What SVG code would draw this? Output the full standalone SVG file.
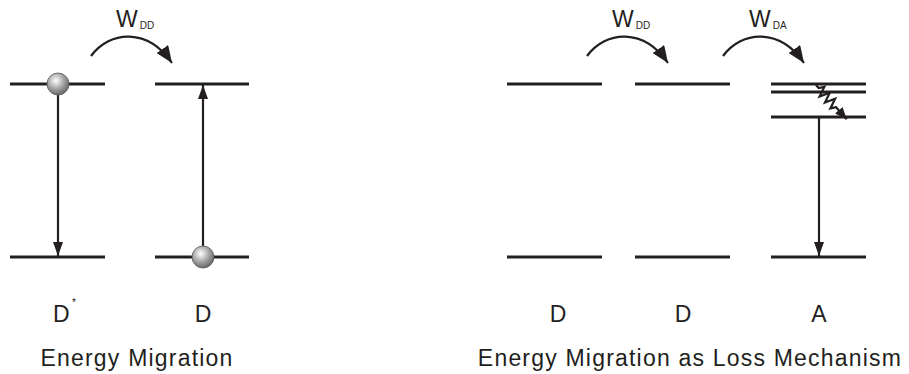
<svg xmlns="http://www.w3.org/2000/svg" width="909" height="374" viewBox="0 0 909 374">
<style>
.lv{stroke:#231f20;stroke-width:2.8;fill:none}
.ar{stroke:#231f20;stroke-width:2.2;fill:none}
.t{font-family:"Liberation Sans",Arial,sans-serif;fill:#231f20}
.lab{font-size:23px}
.cap{font-size:23px;letter-spacing:1.2px}
.w{font-size:23px}
.sub{font-size:10px}
</style>
<defs>
<marker id="ah" viewBox="0 0 14 10" refX="14" refY="5" markerWidth="14" markerHeight="10" markerUnits="userSpaceOnUse" orient="auto"><path d="M0,0L14,5L0,10z" fill="#231f20"/></marker>
<marker id="ahs" viewBox="0 0 12 10" refX="12" refY="5" markerWidth="12" markerHeight="10" markerUnits="userSpaceOnUse" orient="auto"><path d="M0,0L12,5L0,10z" fill="#231f20"/></marker>
<marker id="ahc" viewBox="0 0 17 14" refX="17" refY="7" markerWidth="17" markerHeight="14" markerUnits="userSpaceOnUse" orient="auto"><path d="M0,0L17,7L0,14z" fill="#231f20"/></marker>
<radialGradient id="ball" cx="0.4" cy="0.35" r="0.65"><stop offset="0" stop-color="#ffffff"/><stop offset="0.6" stop-color="#a0a0a0"/><stop offset="1" stop-color="#6a6a6a"/></radialGradient>
</defs>
<g id="connectors">
<path class="ar" d="M58,90V256" marker-end="url(#ah)"/>
<path class="ar" d="M203,250V85" marker-end="url(#ah)"/>
<path class="ar" d="M91,56C110,30 148,28 172,63" marker-end="url(#ahc)"/>
<path class="ar" d="M587,56C606,30 644,28 668,63" marker-end="url(#ahc)"/>
<path class="ar" d="M723,56C742,30 780,28 804,63" marker-end="url(#ahc)"/>
<path class="ar" d="M819,117V256" marker-end="url(#ah)"/>
<path class="ar" stroke-width="1.7" transform="translate(816,85) rotate(48)" d="M0,0L4,0L7,-5L11,5L15,-5L19,5L23,-5L27,5L30,0L46,0" marker-end="url(#ahs)"/>
</g>
<g id="D-star">
<line class="lv" x1="10" y1="84" x2="105" y2="84"/>
<line class="lv" x1="10" y1="257" x2="105" y2="257"/>
<circle cx="58" cy="84" r="11" fill="url(#ball)" stroke="#555" stroke-width="0.8"/>
<text class="t lab" x="53" y="322">D</text>
<text class="t" x="72" y="306" font-size="10">*</text>
</g>
<g id="D-left">
<line class="lv" x1="155" y1="84" x2="249" y2="84"/>
<line class="lv" x1="155" y1="257" x2="249" y2="257"/>
<circle cx="203" cy="257" r="11" fill="url(#ball)" stroke="#555" stroke-width="0.8"/>
<text class="t lab" x="203" y="322" text-anchor="middle">D</text>
</g>
<g id="label-wdd1">
<text class="t w" x="116" y="27">W<tspan class="sub" dx="2" dy="2">DD</tspan></text>
</g>
<text class="t cap" x="137" y="366" text-anchor="middle">Energy Migration</text>
<g id="D1">
<line class="lv" x1="507" y1="84" x2="602" y2="84"/>
<line class="lv" x1="507" y1="257" x2="602" y2="257"/>
<text class="t lab" x="558" y="322" text-anchor="middle">D</text>
</g>
<g id="D2">
<line class="lv" x1="635" y1="84" x2="730" y2="84"/>
<line class="lv" x1="635" y1="257" x2="730" y2="257"/>
<text class="t lab" x="683" y="322" text-anchor="middle">D</text>
</g>
<g id="A">
<line class="lv" x1="771" y1="84" x2="866" y2="84"/>
<line class="lv" x1="771" y1="92" x2="866" y2="92"/>
<line class="lv" x1="771" y1="117" x2="866" y2="117"/>
<line class="lv" x1="771" y1="257" x2="866" y2="257"/>
<text class="t lab" x="819" y="322" text-anchor="middle">A</text>
</g>
<g id="label-wdd2"><text class="t w" x="612" y="27">W<tspan class="sub" dx="2" dy="2">DD</tspan></text></g>
<g id="label-wda"><text class="t w" x="749" y="27">W<tspan class="sub" dx="2" dy="2">DA</tspan></text></g>
<text class="t cap" x="690" y="366" text-anchor="middle">Energy Migration as Loss Mechanism</text>
</svg>
